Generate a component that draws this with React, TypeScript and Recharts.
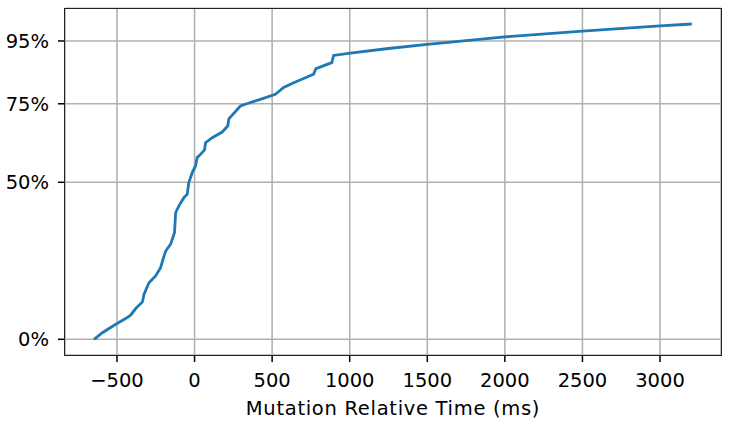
import { LineChart, Line, XAxis, YAxis, CartesianGrid, Label } from "recharts";

const INK = "#000";
const GRID = "#b0b0b0";
const BLUE = "#1f77b4";
const FONT = "'DejaVu Sans', sans-serif";

// Cumulative share of mutations vs. relative time
const TIMES = [
  -648, -594, -508, -444, -412, -379, -336, -326, -294, -251, -219, -197,
  -186, -154, -129, -122, -101, -69, -47, -37, -15, 6, 17, 39, 64, 71, 114,
  178, 214, 221, 296, 360, 424, 521, 574, 639, 767, 782, 885, 896, 1003, 1250,
  1500, 1600, 2000, 2500, 3000, 3205,
];
const PERCENTS = [
  0, 2.1, 4.8, 6.6, 7.7, 9.8, 11.9, 14.3, 18.0, 20.2, 22.8, 26.5, 28.1, 30.3,
  34.0, 40.3, 42.5, 45.1, 46.2, 49.9, 53.1, 55.2, 57.9, 58.9, 60.3, 62.6, 64.2,
  66.0, 67.9, 70.2, 74.3, 75.4, 76.4, 78.0, 80.2, 81.7, 84.4, 86.2, 88.1, 90.4,
  91.1, 92.6, 93.9, 94.4, 96.3, 98.1, 99.8, 100.4,
];
const X_TICKS = [-500, 0, 500, 1000, 1500, 2000, 2500, 3000];
const Y_TICKS = [0, 50, 75, 95];

const data = TIMES.map((t, i) => ({ t, p: PERCENTS[i] }));

const tickStyle = { fill: INK, fontSize: 19.5, fontFamily: FONT };

export default function App() {
  return (
    <div
      style={{
        position: "absolute",
        left: 0,
        top: 0,
        width: 750,
        height: 427,
        background: "white",
      }}
    >
      <LineChart
        width={750}
        height={427}
        data={data}
        margin={{ top: 8.3, right: 29, bottom: 0, left: 0 }}
      >
        <CartesianGrid stroke={GRID} strokeWidth={1.55} />
        <XAxis
          dataKey="t"
          type="number"
          domain={[-835, 3393]}
          ticks={X_TICKS}
          allowDataOverflow
          height={72}
          axisLine={false}
          tickLine={{ stroke: INK, strokeWidth: 1.5 }}
          tickSize={7}
          tickMargin={11}
          tick={tickStyle}
          tickFormatter={(v: number) => (v < 0 ? `\u2212${-v}` : `${v}`)}
        >
          <Label
            value="Mutation Relative Time (ms)"
            position="insideBottom"
            offset={12}
            fill={INK}
            fontSize={19.5}
            fontFamily={FONT}
            style={{ letterSpacing: "0.7px" }}
          />
        </XAxis>
        <YAxis
          type="number"
          domain={[-5, 105.4]}
          ticks={Y_TICKS}
          allowDataOverflow
          width={65}
          axisLine={false}
          tickLine={{ stroke: INK, strokeWidth: 1.5 }}
          tickSize={7}
          tickMargin={9}
          tick={tickStyle}
          tickFormatter={(v: number) => `${v}%`}
        />
        <Line
          type="linear"
          dataKey="p"
          stroke={BLUE}
          strokeWidth={2.8}
          dot={false}
          isAnimationActive={false}
        />
      </LineChart>
      <div
        style={{
          position: "absolute",
          left: 64.25,
          top: 7.55,
          width: 657.5,
          height: 348.2,
          border: "1.5px solid #222",
          boxSizing: "border-box",
          pointerEvents: "none",
        }}
      />
    </div>
  );
}
